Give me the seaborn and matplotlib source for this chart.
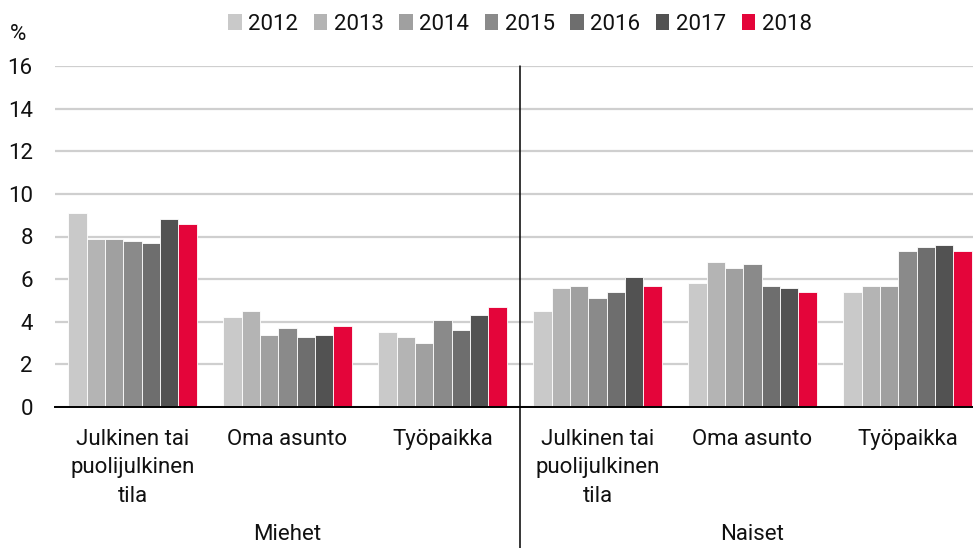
import pandas as pd
import seaborn as sns
import matplotlib.pyplot as plt
import matplotlib.transforms as mtransforms

# data
years = ["2012", "2013", "2014", "2015", "2016", "2017", "2018"]
places = ["Julkinen tai\npuolijulkinen\ntila", "Oma asunto", "Työpaikka"]
sexes = ["Miehet", "Naiset"]

miehet_julkinen = [9.1, 7.9, 7.9, 7.8, 7.7, 8.8, 8.6]
miehet_oma = [4.2, 4.5, 3.4, 3.7, 3.3, 3.4, 3.8]
miehet_tyo = [3.5, 3.3, 3.0, 4.1, 3.6, 4.3, 4.7]
naiset_julkinen = [4.5, 5.6, 5.7, 5.1, 5.4, 6.1, 5.7]
naiset_oma = [5.8, 6.8, 6.5, 6.7, 5.7, 5.6, 5.4]
naiset_tyo = [5.4, 5.7, 5.7, 7.3, 7.5, 7.6, 7.3]

colors = ["#c9c9c9", "#b4b4b4", "#a0a0a0", "#8a8a8a", "#6e6e6e", "#525252", "#e4053a"]

series = [miehet_julkinen, miehet_oma, miehet_tyo, naiset_julkinen, naiset_oma, naiset_tyo]
rows = []
for i, vals in enumerate(series):
    sex = sexes[i // 3]
    place = places[i % 3]
    for y, v in zip(years, vals):
        rows.append({"group": f"{sex}|{place}", "year": y, "value": v})
df = pd.DataFrame(rows)
order = [f"{s}|{p}" for s in sexes for p in places]

sns.set_style("white")
plt.rcParams["font.family"] = ["Roboto", "DejaVu Sans"]
plt.rcParams["text.color"] = "#111111"

fig = plt.figure(figsize=(9.73, 5.48), dpi=100)
ax = fig.add_axes([55 / 973, (548 - 407) / 548, 930 / 973, 341 / 548])

sns.barplot(data=df, x="group", y="value", hue="year", order=order,
            hue_order=years, palette=colors, saturation=1, width=0.83, ax=ax,
            edgecolor="white", linewidth=0.6, legend=True)

ax.set_ylim(0, 16)
ax.set_xlim(-0.5, 5.5)
ax.set_yticks(range(0, 17, 2))
ax.yaxis.grid(True, color="#cfcfcf", linewidth=1.6)
ax.set_axisbelow(True)
for s in ["top", "right", "left"]:
    ax.spines[s].set_visible(False)
ax.spines["bottom"].set_color("black")
ax.spines["bottom"].set_linewidth(1.4)
ax.tick_params(axis="both", length=0, labelsize=16, labelcolor="#111111")
ax.tick_params(axis="y", pad=16)
ax.tick_params(axis="x", pad=16)
ax.set_xticks(range(6))
ax.set_xticklabels(places * 2, linespacing=1.45, va="top")
ax.set_xlabel("")
ax.set_ylabel("")

# divider between Miehet and Naiset
trans = mtransforms.blended_transform_factory(ax.transData, ax.transAxes)
ax.plot([2.5, 2.5], [-0.42, 1.0], color="black", linewidth=1.1,
        transform=trans, clip_on=False)

for i, s in enumerate(sexes):
    ax.text(1 + 3 * i, -0.375, s, transform=trans, ha="center", va="center",
            fontsize=16)

fig.text(18 / 973, 1 - 34 / 548, "%", ha="center", va="center", fontsize=16)

leg = ax.legend(loc="center", bbox_to_anchor=(520 / 973, 1 - 24 / 548),
                bbox_transform=fig.transFigure, ncol=7, frameon=False,
                fontsize=16, handlelength=0.6, handleheight=0.7,
                handletextpad=0.3, columnspacing=0.7)
for h in leg.legend_handles:
    h.set_edgecolor("none")

fig.savefig("out.png", dpi=100)
